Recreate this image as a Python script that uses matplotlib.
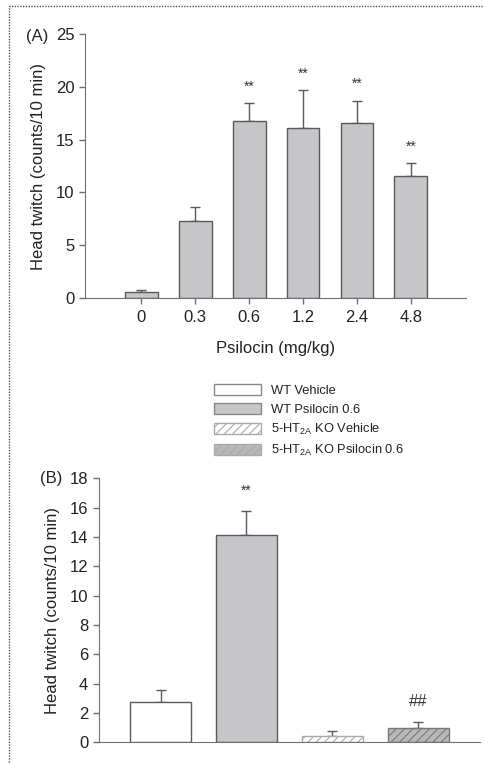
import matplotlib
matplotlib.use("Agg")
import matplotlib.pyplot as plt
from matplotlib.patches import Patch, Rectangle
import numpy as np

plt.rcParams['font.family'] = ['Liberation Sans', 'DejaVu Sans']
plt.rcParams['mathtext.fontset'] = 'custom'
plt.rcParams['mathtext.rm'] = 'Liberation Sans'
plt.rcParams['mathtext.it'] = 'Liberation Sans:italic'
plt.rcParams['mathtext.bf'] = 'Liberation Sans:bold'
plt.rcParams['hatch.color'] = '#777777'
plt.rcParams['hatch.linewidth'] = 0.8

# ---- Data ----
doses = ["0", "0.3", "0.6", "1.2", "2.4", "4.8"]
a_means = [0.6, 7.25, 16.8, 16.1, 16.6, 11.55]
a_err = [0.2, 1.4, 1.65, 3.6, 2.1, 1.25]
a_sig = ["", "", "**", "**", "**", "**"]

groups = ["WT Vehicle", "WT Psilocin 0.6",
          "5-HT$_\\mathregular{2A}$ KO Vehicle",
          "5-HT$_\\mathregular{2A}$ KO Psilocin 0.6"]
b_means = [2.72, 14.15, 0.43, 1.0]
b_err = [0.85, 1.65, 0.32, 0.4]
b_sig = ["", "**", "", "##"]

W, H = 484, 764
fig = plt.figure(figsize=(W / 100, H / 100), dpi=100)

def fx(px):
    return px / W

def fy(py):
    return 1 - py / H

gray = '#c6c6c8'
edge = '#5a5a5a'
axc = '#707070'
txt = '#222222'
FS = 12

# outer dotted frame
fig.patches.append(Rectangle((fx(9), fy(800)), 1.2, fy(6) - fy(800),
                             transform=fig.transFigure, fill=False,
                             edgecolor='#555555', linewidth=1.0,
                             linestyle=(0, (1, 1))))

# ---- Panel A ----
axA = fig.add_axes([fx(85), fy(298), fx(466) - fx(85), fy(34) - fy(298)])
xa = np.arange(len(doses))
axA.bar(xa, a_means, width=0.61, color=gray, edgecolor=edge, linewidth=1.0, zorder=2)
axA.errorbar(xa, a_means, yerr=[np.zeros(len(a_err)), a_err], fmt='none',
             ecolor=edge, elinewidth=1.0, capsize=3.5, capthick=1.0, zorder=1)
for x, m, e, s in zip(xa, a_means, a_err, a_sig):
    if s:
        axA.text(x, m + e + 0.9, s, ha='center', va='bottom', fontsize=10, color='#333333')
axA.set_xlim(-1.04, 6.02)
axA.set_ylim(0, 25)
axA.set_yticks([0, 5, 10, 15, 20, 25])
axA.set_xticks(xa)
axA.set_xticklabels(doses)
axA.set_xlabel("Psilocin (mg/kg)", fontsize=FS, labelpad=11, color=txt)
axA.set_ylabel("Head twitch (counts/10 min)", fontsize=FS, labelpad=7, color=txt)
for sp in ['top', 'right']:
    axA.spines[sp].set_visible(False)
for sp in ['left', 'bottom']:
    axA.spines[sp].set_color(axc)
axA.tick_params(axis='both', colors=axc, labelcolor=txt, labelsize=FS, length=4, width=1)
axA.tick_params(axis='x', pad=5)
fig.text(fx(37), fy(36), "(A)", fontsize=FS, ha='center', va='center', color=txt)

# ---- Legend ----
handles = [Patch(facecolor='white', edgecolor='#888888'),
           Patch(facecolor=gray, edgecolor='#888888'),
           Patch(facecolor='white', edgecolor='#aaaaaa', hatch='////'),
           Patch(facecolor='#b8b8ba', edgecolor='#aaaaaa', hatch='////')]
fig.legend(handles, groups, loc='upper left', bbox_to_anchor=(fx(214), fy(384)),
           frameon=False, fontsize=9.3, handlelength=3.6, handleheight=0.95,
           labelspacing=0.45, handletextpad=0.85, borderpad=0, borderaxespad=0,
           labelcolor=txt)

# ---- Panel B ----
axB = fig.add_axes([fx(98.7), fy(742.3), fx(480) - fx(98.7), fy(478.4) - fy(742.3)])
xb = np.arange(len(groups))
faces = ['white', gray, 'white', '#b8b8ba']
hatches = [None, None, '////', '////']
edges = [edge, edge, '#aaaaaa', '#777777']
for x, m, f, h, ec in zip(xb, b_means, faces, hatches, edges):
    axB.bar(x, m, width=0.71, color=f, edgecolor=ec, hatch=h, linewidth=1.0, zorder=2)
axB.errorbar(xb, b_means, yerr=[np.zeros(len(b_err)), b_err], fmt='none',
             ecolor=edge, elinewidth=1.0, capsize=3.5, capthick=1.0, zorder=1)
for x, m, e, s in zip(xb, b_means, b_err, b_sig):
    if s:
        axB.text(x, m + e + 0.9, s, ha='center', va='bottom',
                 fontsize=10 if s == "**" else 12, color='#333333')
axB.set_xlim(-0.72, 3.72)
axB.set_ylim(0, 18)
axB.set_yticks(np.arange(0, 19, 2))
axB.set_xticks([])
axB.set_ylabel("Head twitch (counts/10 min)", fontsize=FS, labelpad=7, color=txt)
for sp in ['top', 'right']:
    axB.spines[sp].set_visible(False)
for sp in ['left', 'bottom']:
    axB.spines[sp].set_color(axc)
axB.tick_params(axis='y', colors=axc, labelcolor=txt, labelsize=FS, length=4, width=1)
fig.text(fx(51), fy(478), "(B)", fontsize=FS, ha='center', va='center', color=txt)

fig.savefig("out.png", dpi=100)
